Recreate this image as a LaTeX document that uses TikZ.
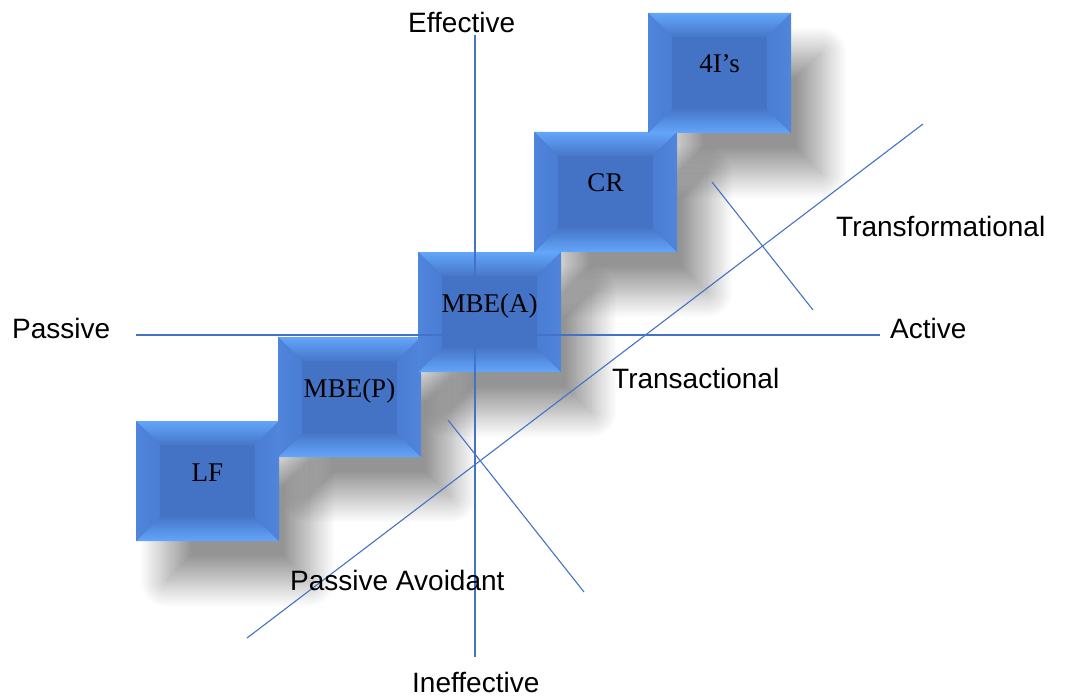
\documentclass[tikz,border=0pt]{standalone}
\usepackage{fontspec}
\setmainfont{Liberation Sans}
\newfontfamily\boxserif{Liberation Serif}
\usetikzlibrary{calc,shadows.blur}

\definecolor{face}{HTML}{4472C4}
\definecolor{bevlight}{HTML}{63A6FA}
\definecolor{bevside}{HTML}{4A7DD3}
\definecolor{axis}{HTML}{4472C4}

\tikzset{
  boxface/.style={rectangle, fill=face, minimum width=143pt, minimum height=120pt,
    inner sep=0pt, outer sep=0pt, anchor=north west},
  boxshade/.style={blur shadow={shadow xshift=30pt, shadow yshift=-40pt,
    shadow blur radius=26pt, shadow blur steps=24, shadow opacity=42}},
  boxlabel/.style={font=\boxserif\fontsize{27}{30}\selectfont, anchor=base, inner sep=0pt},
  axisline/.style={draw=axis, line width=1.1pt},
  straightaxis/.style={draw=axis, line width=1.3pt},
  caption/.style={font=\fontsize{28}{32}\selectfont, anchor=base west, inner sep=0pt},
}

% soft drop shadow under a box whose top-left corner is (#1,#2)
\newcommand\boxshadow[2]{%
  \path[boxshade, fill=face] (#1,#2) rectangle ++(143,120);}

% bevelled box: name, left, top
\newcommand\bevelbox[3]{%
  \node[boxface] (#1) at (#2,#3) {};
  \shade[top color=bevlight, middle color=face!65!bevlight, bottom color=face!92!bevlight]
    (#1.north west) -- (#1.north east) -- ($(#1.north east)+(-24,24)$)
    -- ($(#1.north west)+(24,24)$) -- cycle;
  \shade[top color=face!92!bevlight, middle color=face!65!bevlight, bottom color=bevlight]
    (#1.south west) -- (#1.south east) -- ($(#1.south east)+(-24,-24)$)
    -- ($(#1.south west)+(24,-24)$) -- cycle;
  \shade[left color=bevside!80!bevlight, right color=bevside]
    (#1.north west) -- ($(#1.north west)+(24,24)$)
    -- ($(#1.south west)+(24,-24)$) -- (#1.south west) -- cycle;
  \shade[left color=bevside, right color=bevside!80!bevlight]
    (#1.north east) -- ($(#1.north east)+(-24,24)$)
    -- ($(#1.south east)+(-24,-24)$) -- (#1.south east) -- cycle;
}

\begin{document}
\begin{tikzpicture}[x=1pt, y=-1pt]
  \useasboundingbox (0,0) rectangle (1066,698);

  % shadows first, so no shadow falls on a neighbouring box
  \boxshadow{136}{421}
  \boxshadow{278}{337}
  \boxshadow{418}{252}
  \boxshadow{534}{132}
  \boxshadow{648}{13}

  % the staircase of styles
  \bevelbox{lf}{136}{421}
  \bevelbox{mbep}{278}{337}
  \bevelbox{mbea}{418}{252}
  \bevelbox{cr}{534}{132}
  \bevelbox{fouri}{648}{13}

  % axis end points
  \coordinate (vtop) at (475,35);
  \coordinate (vbot) at (475,657);
  \coordinate (hleft) at (136,335);
  \coordinate (hright) at (880,335);
  \coordinate (dlow) at (247,638);
  \coordinate (dhigh) at (923,124);
  \coordinate (c1a) at (712,182);
  \coordinate (c1b) at (813,310);
  \coordinate (c2a) at (448,420);
  \coordinate (c2b) at (584,592);

  \draw[straightaxis] (vtop) -- (vbot);
  \draw[straightaxis] (hleft) -- (hright);
  \draw[axisline] (dlow) -- (dhigh);
  \draw[axisline] (c1a) -- (c1b);
  \draw[axisline] (c2a) -- (c2b);

  % box labels, set over the axes
  \node[boxlabel] (lf-label) at (lf.center) {LF};
  \node[boxlabel] (mbep-label) at (mbep.center) {MBE(P)};
  \node[boxlabel] (mbea-label) at (mbea.center) {MBE(A)};
  \node[boxlabel] (cr-label) at (cr.center) {CR};
  \node[boxlabel] (fouri-label) at (fouri.center) {4I’s};

  % axis and region captions
  \node[caption] (eff) at (408,33) {Effective};
  \node[caption] (ineff) at (412,692) {Ineffective};
  \node[caption] (pas) at (12,338) {Passive};
  \node[caption] (act) at (890,338) {Active};
  \node[caption] (trf) at (836,236) {Transformational};
  \node[caption] (trs) at (612,388) {Transactional};
  \node[caption] (pav) at (290,590) {Passive Avoidant};
\end{tikzpicture}
\end{document}
